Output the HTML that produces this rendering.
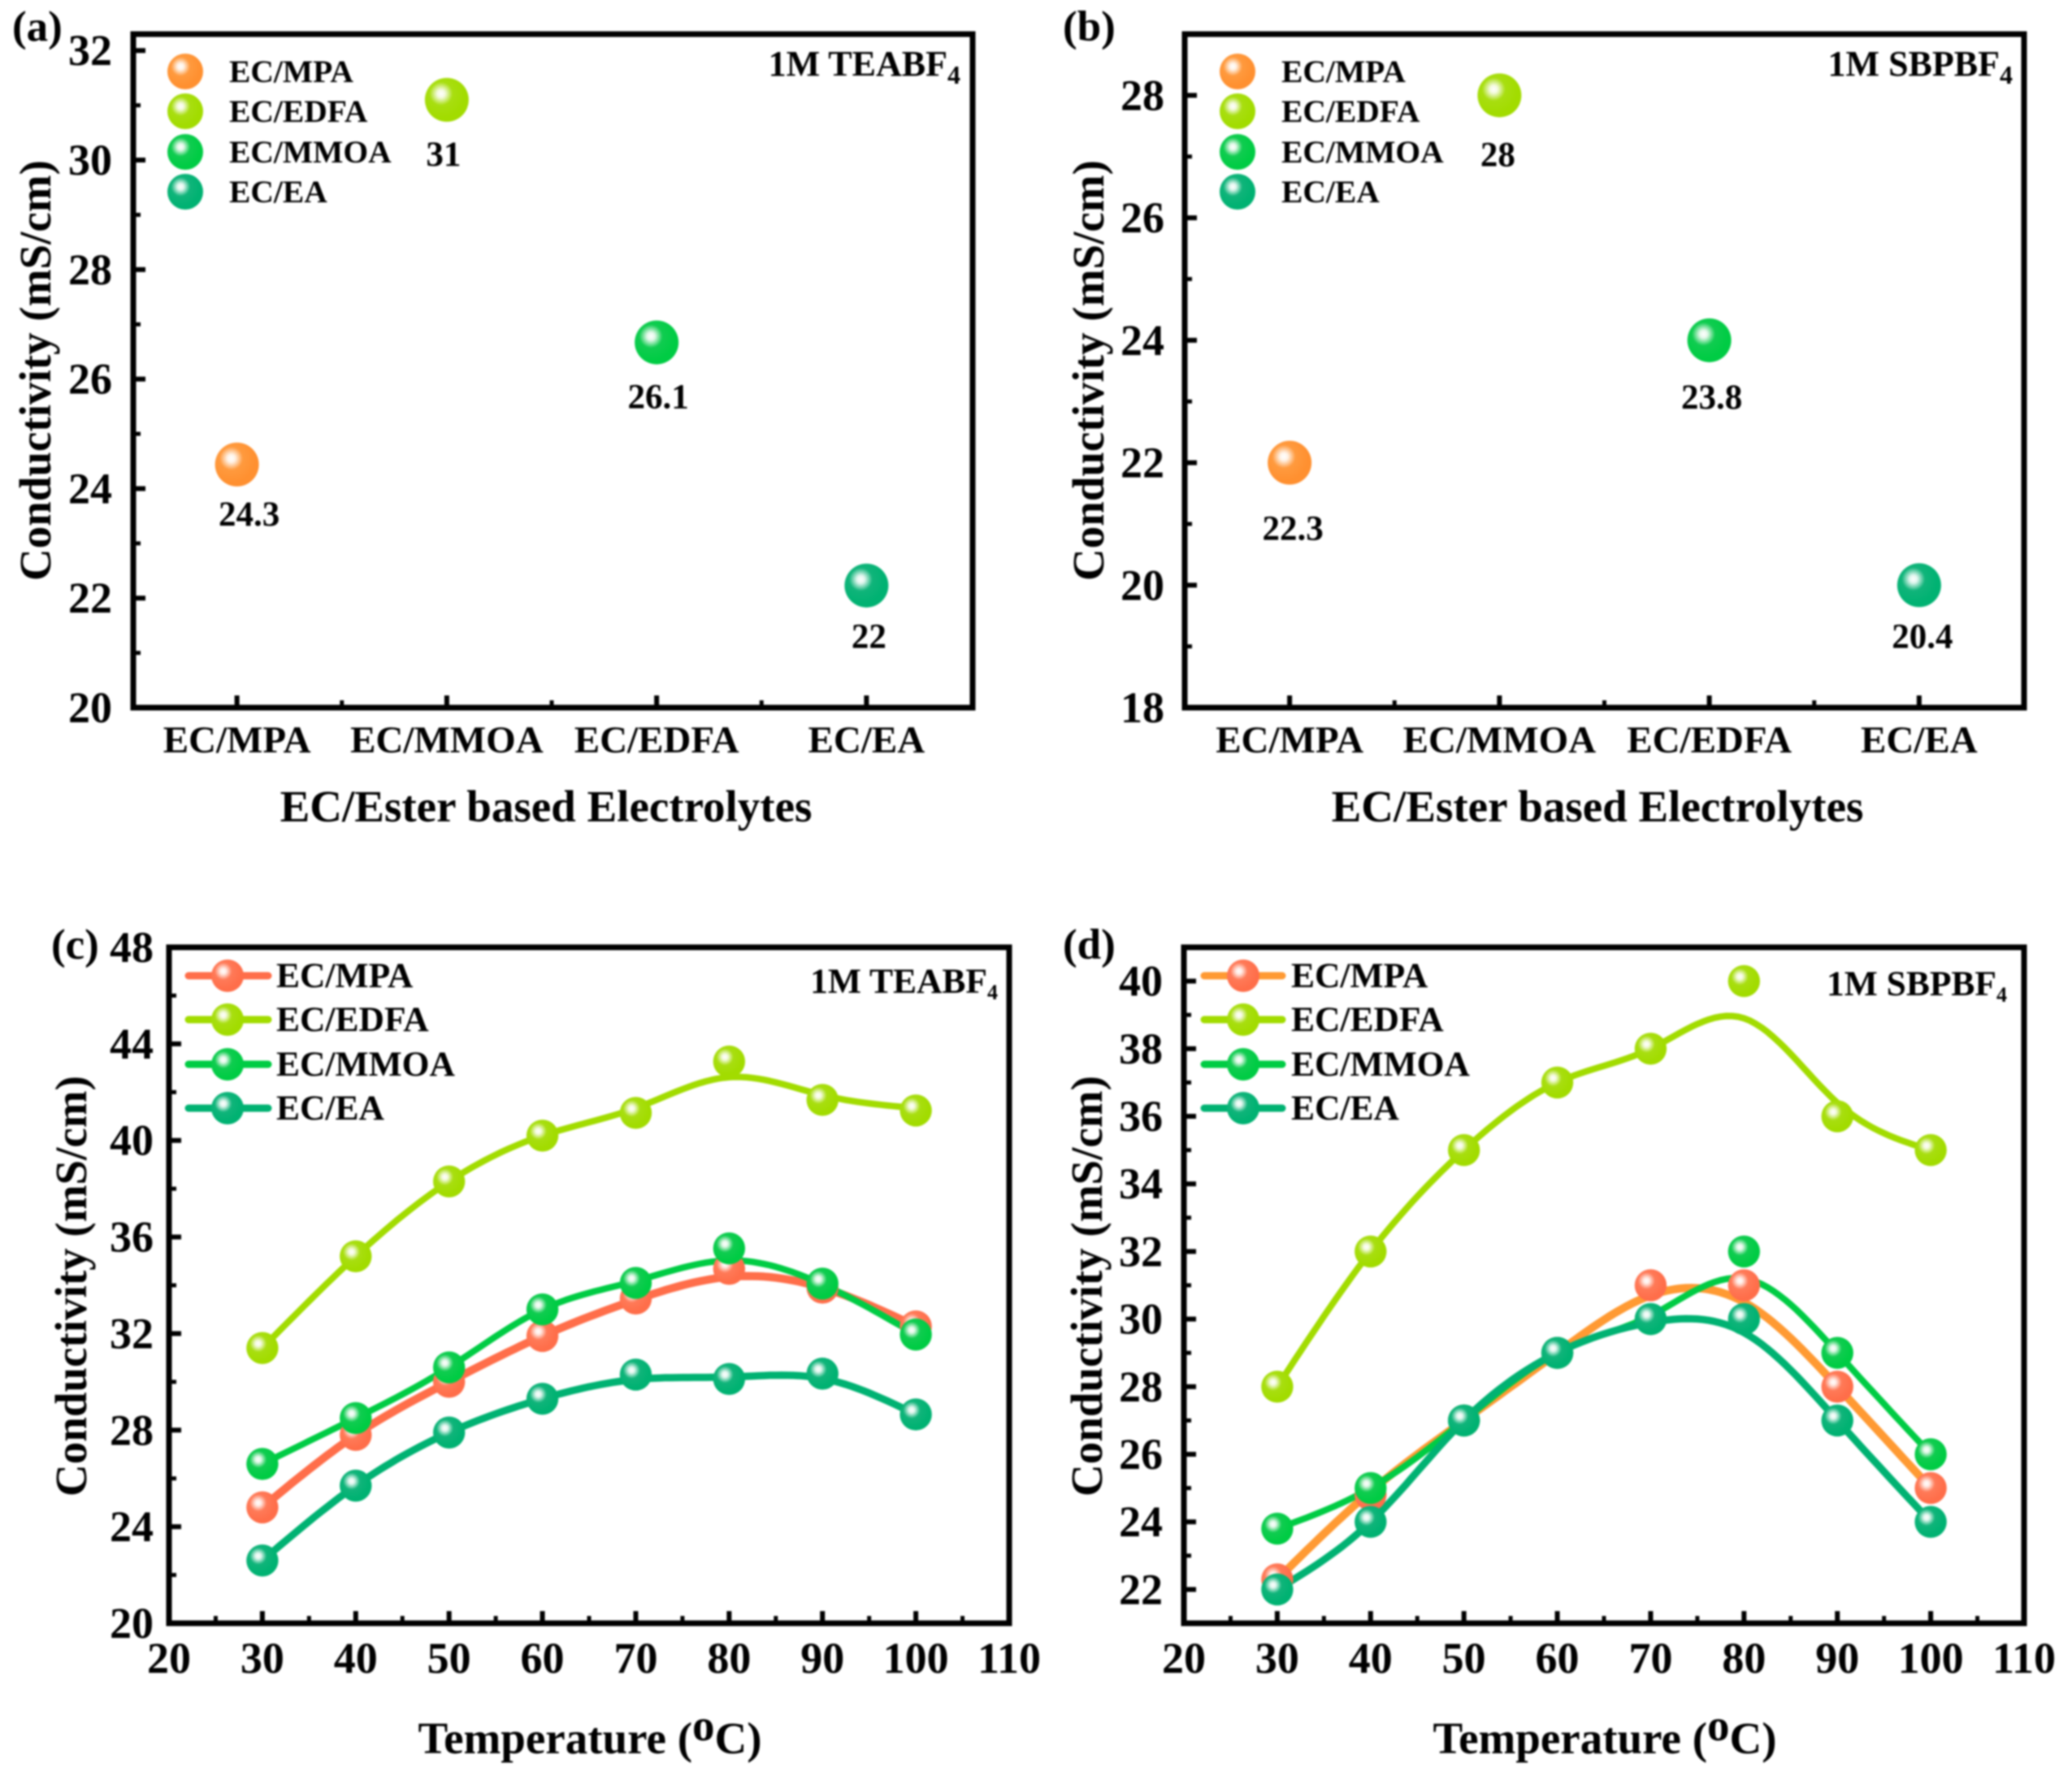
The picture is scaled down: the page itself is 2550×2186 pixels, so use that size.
<!DOCTYPE html>
<html lang="en">
<head>
<meta charset="utf-8">
<title>Conductivity of EC/Ester based Electrolytes</title>
<style>
html,body{margin:0;padding:0;background:#fff;width:2550px;height:2186px;overflow:hidden}
svg{display:block;filter:blur(1px)}
text{font-family:"Liberation Serif",serif;font-weight:bold;fill:#000}
.title{font-size:55px}
.panel{font-size:53px}
.note{font-size:44px}
.note2{font-size:43.5px}
.la{font-size:39.5px}
.lc{font-size:43.5px}
.frame{fill:none;stroke:#000;stroke-width:7}
.ll{fill:none;stroke-width:9;stroke-linecap:round}
</style>
</head>
<body>
<svg id="fig" xmlns="http://www.w3.org/2000/svg" width="2550" height="2186" viewBox="0 0 2550 2186">
<defs>
<radialGradient id="g-orange" cx="0.37" cy="0.36" r="0.55"><stop offset="0" stop-color="#fff"/><stop offset=".16" stop-color="#fff3e8"/><stop offset=".48" stop-color="#FF9A3E"/><stop offset="1" stop-color="#FF9030"/></radialGradient>
<radialGradient id="g-red" cx="0.37" cy="0.36" r="0.55"><stop offset="0" stop-color="#fff"/><stop offset=".16" stop-color="#ffece6"/><stop offset=".48" stop-color="#FF7A58"/><stop offset="1" stop-color="#FF6E4A"/></radialGradient>
<radialGradient id="g-lime" cx="0.37" cy="0.36" r="0.55"><stop offset="0" stop-color="#fff"/><stop offset=".16" stop-color="#f4fae0"/><stop offset=".48" stop-color="#A8DE10"/><stop offset="1" stop-color="#A2DC00"/></radialGradient>
<radialGradient id="g-green" cx="0.37" cy="0.36" r="0.55"><stop offset="0" stop-color="#fff"/><stop offset=".16" stop-color="#e4f8ea"/><stop offset=".48" stop-color="#10CC50"/><stop offset="1" stop-color="#00CC44"/></radialGradient>
<radialGradient id="g-teal" cx="0.37" cy="0.36" r="0.55"><stop offset="0" stop-color="#fff"/><stop offset=".16" stop-color="#e2f6ef"/><stop offset=".48" stop-color="#10B47A"/><stop offset="1" stop-color="#00B272"/></radialGradient>
</defs>

<g id="panel-a">
  <rect class="frame" x="164" y="42" width="1033" height="829"/>
  <text class="panel" x="15" y="50">(a)</text>
  <text class="note" x="1182" y="93" text-anchor="end">1M TEABF<tspan font-size="32" dy="10">4</tspan></text>
  <text class="title" x="672" y="1011" text-anchor="middle">EC/Ester based Electrolytes</text>
  <text class="title" transform="translate(62 456) rotate(-90)" text-anchor="middle">Conductivity (mS/cm)</text>
  <g>
    <circle cx="228" cy="88" r="22" fill="url(#g-orange)"/><text class="la" x="282" y="101">EC/MPA</text>
    <circle cx="228" cy="137" r="22" fill="url(#g-lime)"/><text class="la" x="282" y="150">EC/EDFA</text>
    <circle cx="228" cy="187" r="22" fill="url(#g-green)"/><text class="la" x="282" y="200">EC/MMOA</text>
    <circle cx="228" cy="236" r="22" fill="url(#g-teal)"/><text class="la" x="282" y="249">EC/EA</text>
  </g>
</g>

<g id="panel-b">
  <rect class="frame" x="1458" y="42" width="1033" height="829"/>
  <text class="panel" x="1308" y="50">(b)</text>
  <text class="note" x="2477" y="93" text-anchor="end">1M SBPBF<tspan font-size="32" dy="10">4</tspan></text>
  <text class="title" x="1966" y="1011" text-anchor="middle">EC/Ester based Electrolytes</text>
  <text class="title" transform="translate(1358 456) rotate(-90)" text-anchor="middle">Conductivity (mS/cm)</text>
  <g>
    <circle cx="1523" cy="88" r="22" fill="url(#g-orange)"/><text class="la" x="1577" y="101">EC/MPA</text>
    <circle cx="1523" cy="137" r="22" fill="url(#g-lime)"/><text class="la" x="1577" y="150">EC/EDFA</text>
    <circle cx="1523" cy="187" r="22" fill="url(#g-green)"/><text class="la" x="1577" y="200">EC/MMOA</text>
    <circle cx="1523" cy="236" r="22" fill="url(#g-teal)"/><text class="la" x="1577" y="249">EC/EA</text>
  </g>
</g>

<g id="panel-c">
  <rect class="frame" x="208" y="1166" width="1034" height="832"/>
  <text class="panel" x="63" y="1180">(c)</text>
  <text class="note2" x="1228" y="1222" text-anchor="end">1M TEABF<tspan font-size="26" dy="8">4</tspan></text>
  <text class="title" x="726" y="2158" text-anchor="middle">Temperature (<tspan dy="-16">o</tspan><tspan dy="16">C)</tspan></text>
  <text class="title" transform="translate(106 1583) rotate(-90)" text-anchor="middle">Conductivity (mS/cm)</text>
  <g>
    <line class="ll" x1="232" x2="330" y1="1201" y2="1201" stroke="#FF6E4A"/><circle cx="280" cy="1201" r="20" fill="url(#g-red)"/><text class="lc" x="340" y="1215">EC/MPA</text>
    <line class="ll" x1="232" x2="330" y1="1255" y2="1255" stroke="#A2DC00"/><circle cx="280" cy="1255" r="20" fill="url(#g-lime)"/><text class="lc" x="340" y="1269">EC/EDFA</text>
    <line class="ll" x1="232" x2="330" y1="1310" y2="1310" stroke="#00CC44"/><circle cx="280" cy="1310" r="20" fill="url(#g-green)"/><text class="lc" x="340" y="1324">EC/MMOA</text>
    <line class="ll" x1="232" x2="330" y1="1364" y2="1364" stroke="#00B272"/><circle cx="280" cy="1364" r="20" fill="url(#g-teal)"/><text class="lc" x="340" y="1378">EC/EA</text>
  </g>
</g>

<g id="panel-d">
  <rect class="frame" x="1457" y="1166" width="1034" height="832"/>
  <text class="panel" x="1308" y="1180">(d)</text>
  <text class="note2" x="2470" y="1225" text-anchor="end">1M SBPBF<tspan font-size="26" dy="8">4</tspan></text>
  <text class="title" x="1975" y="2158" text-anchor="middle">Temperature (<tspan dy="-16">o</tspan><tspan dy="16">C)</tspan></text>
  <text class="title" transform="translate(1356 1583) rotate(-90)" text-anchor="middle">Conductivity (mS/cm)</text>
  <g>
    <line class="ll" x1="1482" x2="1578" y1="1201" y2="1201" stroke="#FF9A33"/><circle cx="1530" cy="1201" r="20" fill="url(#g-red)"/><text class="lc" x="1589" y="1215">EC/MPA</text>
    <line class="ll" x1="1482" x2="1578" y1="1255" y2="1255" stroke="#A2DC00"/><circle cx="1530" cy="1255" r="20" fill="url(#g-lime)"/><text class="lc" x="1589" y="1269">EC/EDFA</text>
    <line class="ll" x1="1482" x2="1578" y1="1310" y2="1310" stroke="#00CC44"/><circle cx="1530" cy="1310" r="20" fill="url(#g-green)"/><text class="lc" x="1589" y="1324">EC/MMOA</text>
    <line class="ll" x1="1482" x2="1578" y1="1364" y2="1364" stroke="#00B272"/><circle cx="1530" cy="1364" r="20" fill="url(#g-teal)"/><text class="lc" x="1589" y="1378">EC/EA</text>
  </g>
</g>
</svg>

<script>
// ---- data ----
const categories = ['EC/MPA', 'EC/MMOA', 'EC/EDFA', 'EC/EA'];
const pointValuesA = [24.44, 31.1, 26.67, 22.23];
const printedValuesA = ['24.3', '31', '26.1', '22'];
const pointValuesB = [22, 28, 24, 20];
const printedValuesB = ['22.3', '28', '23.8', '20.4'];
const yTickLabelsA = [20, 22, 24, 26, 28, 30, 32];
const yTickLabelsB = [18, 20, 22, 24, 26, 28];

const temperatures = [30, 40, 50, 60, 70, 80, 90, 100];
const xTickLabels = [20, 30, 40, 50, 60, 70, 80, 90, 100, 110];
const yTickLabelsC = [20, 24, 28, 32, 36, 40, 44, 48];
const yTickLabelsD = [22, 24, 26, 28, 30, 32, 34, 36, 38, 40];

const mpaC = [24.8, 27.8, 30, 31.9, 33.45, 34.68, 33.9, 32.3];
const edfaC = [31.4, 35.2, 38.3, 40.2, 41.14, 43.27, 41.68, 41.24];
const mmoaC = [26.6, 28.5, 30.6, 33, 34.1, 35.53, 34.07, 31.96];
const eaC = [22.6, 25.7, 27.9, 29.3, 30.3, 30.12, 30.34, 28.65];
// how far the fitted curve sits from each measured point (in mS/cm)
const mpaFitC = [0, 0, 0, 0, -0.05, -0.33, 0, 0];
const edfaFitC = [0, 0, 0, 0, 0.2, -0.65, 0.2, 0.1];
const mmoaFitC = [0, 0, 0, 0, 0.08, -0.5, -0.03, 0];
const eaFitC = [0, 0, 0, 0, -0.2, 0.08, -0.2, 0];

const mpaD = [22.3, 24.8, 27, 29, 31, 31, 28, 25];
const edfaD = [28, 32, 35, 37, 38, 40, 36, 35];
const mmoaD = [23.8, 25, 27, 29, 30, 32, 29, 26];
const eaD = [22, 24, 27, 29, 30, 30, 27, 24];
const mpaFitD = [0, 0.1, 0, 0, -0.3, -0.5, 0, 0];
const edfaFitD = [0, 0, 0, 0, 0, -1.1, 0.4, 0];
const mmoaFitD = [0, 0, 0, 0, 0.1, -0.8, 0, 0];
const eaFitD = [0, 0, 0, 0, -0.1, -0.4, 0, 0];

// ---- drawing ----
const SVG_NS = 'http://www.w3.org/2000/svg';
const fig = document.getElementById('fig');

function linear(d0, d1, r0, r1) {
  return function (v) { return r0 + (v - d0) * (r1 - r0) / (d1 - d0); };
}
function make(tag, parent, attrs, name) {
  const node = document.createElementNS(SVG_NS, tag);
  for (const k in attrs) { node.setAttribute(k, attrs[k]); }
  
  
  parent.appendChild(node);
  return node;
}
function tick(parent, x1, y1, x2, y2, w, name) {
  make('line', parent, { x1: x1, y1: y1, x2: x2, y2: y2, stroke: '#000', 'stroke-width': w }, name);
}
function label(parent, str, x, y, size, anchor, name) {
  const t = make('text', parent, { x: x, y: y, 'font-size': size, 'text-anchor': anchor }, name);
  t.textContent = str;
}
function yAxis(parent, ys, labels, minorStart, minorEnd, minorStep, rightEdge, left) {
  labels.forEach(function (v) {
    tick(parent, left, ys(v), left + 15, ys(v), 6, 'y-major-tick');
    label(parent, String(v), rightEdge, ys(v) + 18, 54, 'end', 'y-tick-label');
  });
  for (let v = minorStart; v <= minorEnd; v += minorStep) {
    if (labels.indexOf(v) < 0) { tick(parent, left, ys(v), left + 9, ys(v), 5, 'y-minor-tick'); }
  }
}
function splinePath(xs, ys) {
  const n = xs.length, a = new Array(n).fill(0), b = new Array(n).fill(0);
  for (let i = 1; i < n - 1; i++) {
    const sig = (xs[i] - xs[i - 1]) / (xs[i + 1] - xs[i - 1]);
    const p = sig * a[i - 1] + 2;
    a[i] = (sig - 1) / p;
    const d = (ys[i + 1] - ys[i]) / (xs[i + 1] - xs[i]) - (ys[i] - ys[i - 1]) / (xs[i] - xs[i - 1]);
    b[i] = (6 * d / (xs[i + 1] - xs[i - 1]) - sig * b[i - 1]) / p;
  }
  const m = new Array(n).fill(0);
  for (let i = n - 2; i >= 0; i--) { m[i] = a[i] * m[i + 1] + b[i]; }
  let path = 'M' + xs[0].toFixed(1) + ' ' + ys[0].toFixed(1);
  for (let i = 0; i < n - 1; i++) {
    const h = xs[i + 1] - xs[i];
    for (let s = 1; s <= 16; s++) {
      const B = s / 16, A = 1 - B;
      const x = xs[i] + B * h;
      const y = A * ys[i] + B * ys[i + 1] + ((A * A * A - A) * m[i] + (B * B * B - B) * m[i + 1]) * h * h / 6;
      path += 'L' + x.toFixed(1) + ' ' + y.toFixed(1);
    }
  }
  return path;
}

function drawScatter(panelId, frame, yMin, yMax, yLabels, values, printed, fills, nudgeX, nudgeY, tickRight) {
  const parent = document.getElementById(panelId);
  const sx = linear(0.5, 4.5, frame.l, frame.r);
  const sy = linear(yMin, yMax, frame.b, frame.t);
  yAxis(parent, sy, yLabels, yMin, yMax, 1, tickRight, frame.axis);
  categories.forEach(function (c, i) {
    const x = sx(i + 1);
    tick(parent, x, frame.b, x, frame.b - 15, 6, 'x-major-tick');
    if (i < 3) { tick(parent, sx(i + 1.5), frame.b, sx(i + 1.5), frame.b - 9, 5, 'x-minor-tick'); }
    label(parent, c, x, frame.b + 55, 47, 'middle', 'x-category-label');
    make('circle', parent, { cx: x, cy: sy(values[i]), r: 27, fill: 'url(#' + fills[i] + ')' }, 'point-' + c.toLowerCase().replace('/', '-'));
    label(parent, printed[i], x + nudgeX[i], sy(values[i]) + nudgeY[i], 43, 'middle', 'point-value-label');
  });
}

function drawLines(panelId, frame, yMin, yMax, yLabels, series, tickRight) {
  const parent = document.getElementById(panelId);
  const sx = linear(20, 110, frame.l, frame.r);
  const sy = linear(yMin, yMax, frame.b, frame.t);
  yAxis(parent, sy, yLabels, yMin, yMax, yLabels[1] - yLabels[0] === 4 ? 2 : 1, tickRight, frame.l);
  xTickLabels.forEach(function (v, i) {
    tick(parent, sx(v), frame.b, sx(v), frame.b - 15, 6, 'x-major-tick');
    if (i < xTickLabels.length - 1) { tick(parent, sx(v + 5), frame.b, sx(v + 5), frame.b - 9, 5, 'x-minor-tick'); }
    label(parent, String(v), sx(v), frame.b + 61, 54, 'middle', 'x-tick-label');
  });
  const px = temperatures.map(sx);
  series.forEach(function (s) {
    const fit = s.values.map(function (v, i) { return sy(v + s.fit[i]); });
    make('path', parent, { d: splinePath(px, fit), fill: 'none', stroke: s.stroke, 'stroke-width': s.width, 'stroke-linecap': 'round', 'stroke-linejoin': 'round' }, 'line-' + s.name);
  });
  series.forEach(function (s) {
    s.values.forEach(function (v, i) {
      make('circle', parent, { cx: px[i], cy: sy(v), r: 19.7, fill: 'url(#' + s.fill + ')' }, 'point-' + s.name);
    });
  });
}

const scatterFills = ['g-orange', 'g-lime', 'g-green', 'g-teal'];
drawScatter('panel-a', { axis: 164, l: 162.5, r: 1195.5, t: 42, b: 871 }, 20, 32.3, yTickLabelsA, pointValuesA, printedValuesA, scatterFills, [15, -4, 2, 3], [75, 81, 81, 77], 138);
drawScatter('panel-b', { axis: 1458, l: 1458, r: 2491, t: 42, b: 871 }, 18, 29, yTickLabelsB, pointValuesB, printedValuesB, scatterFills, [4, -2, 3, 4], [95, 87, 84, 77], 1433);

drawLines('panel-c', { l: 208, r: 1242, t: 1166, b: 1998 }, 20, 48, yTickLabelsC, [
  { name: 'mpa', values: mpaC, fit: mpaFitC, stroke: '#FF6E4A', fill: 'g-red', width: 10 },
  { name: 'edfa', values: edfaC, fit: edfaFitC, stroke: '#A2DC00', fill: 'g-lime', width: 8 },
  { name: 'mmoa', values: mmoaC, fit: mmoaFitC, stroke: '#00CC44', fill: 'g-green', width: 8 },
  { name: 'ea', values: eaC, fit: eaFitC, stroke: '#00B272', fill: 'g-teal', width: 9 }
], 189);
drawLines('panel-d', { l: 1457, r: 2491, t: 1166, b: 1998 }, 21, 41, yTickLabelsD, [
  { name: 'mpa', values: mpaD, fit: mpaFitD, stroke: '#FF9A33', fill: 'g-red', width: 10 },
  { name: 'edfa', values: edfaD, fit: edfaFitD, stroke: '#A2DC00', fill: 'g-lime', width: 8 },
  { name: 'mmoa', values: mmoaD, fit: mmoaFitD, stroke: '#00CC44', fill: 'g-green', width: 8 },
  { name: 'ea', values: eaD, fit: eaFitD, stroke: '#00B272', fill: 'g-teal', width: 9 }
], 1431);
</script>
</body>
</html>
